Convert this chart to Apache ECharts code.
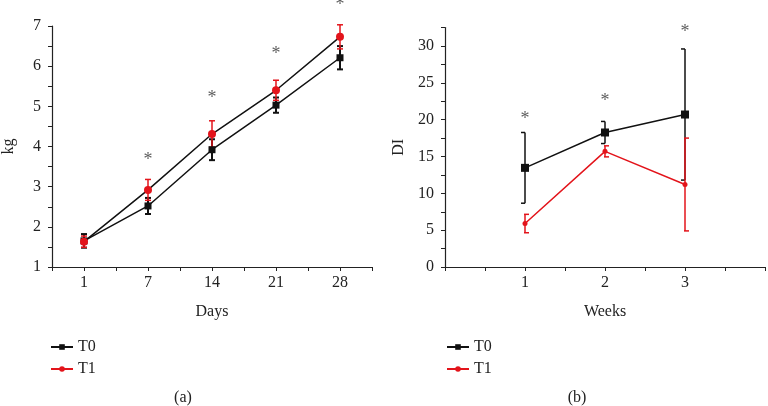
<!DOCTYPE html>
<html><head><meta charset="utf-8">
<script src="https://cdn.jsdelivr.net/npm/echarts@6/dist/echarts.min.js"></script>
<style>html,body{margin:0;padding:0;background:#fff}#c{width:768px;height:406px}</style>
</head><body><div id="c"></div>
<script>
// ---- Data (a): weight in kg by day ----
const days = ['1', '7', '14', '21', '28'];
const weightT0 = [1.65, 2.52, 3.92, 5.03, 6.21];
const weightT0Err = [0.17, 0.20, 0.26, 0.19, 0.29];
const weightT1 = [1.63, 2.92, 4.31, 5.40, 6.73];
const weightT1Err = [0.14, 0.26, 0.33, 0.25, 0.30];
const weightStars = [null, 3.66, 5.21, 6.29, 7.51];
const weightTicks = [1, 2, 3, 4, 5, 6, 7];
// ---- Data (b): DI by week ----
const weeks = ['1', '2', '3'];
const diT0 = [13.46, 18.26, 20.7];
const diT0Err = [4.8, 1.5, 8.9];
const diT1 = [5.9, 15.7, 11.2];
const diT1Err = [1.25, 0.75, 6.3];
const diStars = [20.1, 22.5, 31.8];
const diTicks = [0, 5, 10, 15, 20, 25, 30];

const RED = '#e3141b', BLACK = '#111';
const FONT = 'Liberation Serif';

function pts(vals, xs) { return vals.map((v, i) => [xs[i], v]); }
function errs(vals, e, xs) { return vals.map((v, i) => [xs[i], v - e[i], v + e[i]]); }
const dayX = days.map((d, i) => i);
const weekX = weeks.map(w => Number(w));

function errSeries(name, data, xi, color, lw, capL, capR) {
  return {
    type: 'custom', name: name, xAxisIndex: xi, yAxisIndex: xi, clip: false, z: 1,
    encode: { x: 0, y: [1, 2] }, data: data,
    renderItem: function (params, api) {
      const x = api.value(0), lo = api.value(1), hi = api.value(2);
      const a = api.coord([x, hi]), b = api.coord([x, lo]);
      const st = { stroke: color, lineWidth: lw };
      return { type: 'group', children: [
        { type: 'line', shape: { x1: a[0], y1: a[1], x2: b[0], y2: b[1] }, style: st },
        { type: 'line', shape: { x1: a[0] - capL, y1: a[1], x2: a[0] + capR, y2: a[1] }, style: st },
        { type: 'line', shape: { x1: b[0] - capL, y1: b[1], x2: b[0] + capR, y2: b[1] }, style: st }
      ] };
    }
  };
}
function starSeries(vals, xs, xi) {
  return {
    type: 'scatter', xAxisIndex: xi, yAxisIndex: xi, clip: false, symbolSize: 0, silent: true,
    data: vals.map((v, i) => v == null ? null : [xs[i], v]).filter(d => d),
    label: { show: true, position: 'inside', formatter: '*', color: '#333', fontFamily: FONT, fontSize: 18 }
  };
}
const axisLine = { show: true, onZero: false, lineStyle: { color: '#222', width: 1.2 } };
const axisTick = { show: true, length: 4, lineStyle: { color: '#222', width: 1 } };
const labelStyle = { color: '#222', fontFamily: FONT, fontSize: 16 };
const nameStyle = { color: '#222', fontFamily: FONT, fontSize: 16 };
const legendText = { color: '#222', fontFamily: FONT, fontSize: 16, lineHeight: 14 };

const option = {
  animation: false,
  grid: [
    { left: 50, top: 26, width: 322, height: 241 },
    { left: 445, top: 27.6, width: 321, height: 239.4 }
  ],
  xAxis: [
    { type: 'value', gridIndex: 0, min: -0.5, max: 4.5, interval: 0.5, splitLine: { show: false },
      axisLine: axisLine, axisTick: axisTick,
      axisLabel: Object.assign({ margin: 8, formatter: v => Number.isInteger(v) && v >= 0 && v < days.length ? days[v] : '' }, labelStyle),
      name: 'Days', nameLocation: 'middle', nameGap: 37, nameTextStyle: nameStyle },
    { type: 'value', gridIndex: 1, min: 0, max: 4, interval: 0.5, splitLine: { show: false },
      axisLine: axisLine, axisTick: axisTick,
      axisLabel: Object.assign({ margin: 8, formatter: v => weeks.includes(String(v)) ? String(v) : '' }, labelStyle),
      name: 'Weeks', nameLocation: 'middle', nameGap: 37, nameTextStyle: nameStyle }
  ],
  yAxis: [
    { type: 'value', gridIndex: 0, min: 1, max: 7, interval: 0.5, splitLine: { show: false },
      axisLine: axisLine, axisTick: axisTick,
      axisLabel: Object.assign({ margin: 11, formatter: v => weightTicks.includes(v) ? String(v) : '' }, labelStyle),
      name: 'kg', nameLocation: 'middle', nameGap: 35, nameTextStyle: nameStyle },
    { type: 'value', gridIndex: 1, min: 0, max: 32.5, interval: 2.5, splitLine: { show: false },
      axisLine: axisLine, axisTick: axisTick,
      axisLabel: Object.assign({ margin: 11, formatter: v => diTicks.includes(v) ? String(v) : '' }, labelStyle),
      name: 'DI', nameLocation: 'middle', nameGap: 38, nameTextStyle: nameStyle }
  ],
  legend: [
    { left: 45, top: 334, orient: 'vertical', itemWidth: 22, itemHeight: 7, itemGap: 6,
      textStyle: legendText,
      data: [{ name: 'T0' }, { name: 'T1', itemStyle: { color: RED }, lineStyle: { color: RED } }] },
    { left: 441, top: 334, orient: 'vertical', itemWidth: 22, itemHeight: 7, itemGap: 6,
      textStyle: legendText,
      data: [{ name: 'T0' }, { name: 'T1', itemStyle: { color: RED }, lineStyle: { color: RED } }] }
  ],
  graphic: [
    { type: 'text', x: 183, y: 398, style: { text: '(a)', textAlign: 'center', textVerticalAlign: 'middle', font: '16px "Liberation Serif"', fill: '#222' } },
    { type: 'text', x: 577, y: 398, style: { text: '(b)', textAlign: 'center', textVerticalAlign: 'middle', font: '16px "Liberation Serif"', fill: '#222' } }
  ],
  series: [
    errSeries('T0 err', errs(weightT0, weightT0Err, dayX), 0, BLACK, 2, 3, 3),
    { type: 'line', name: 'T0', xAxisIndex: 0, yAxisIndex: 0, data: pts(weightT0, dayX), symbol: 'rect', symbolSize: 7,
      lineStyle: { color: BLACK, width: 1.5 }, itemStyle: { color: BLACK }, z: 2 },
    errSeries('T1 err', errs(weightT1, weightT1Err, dayX), 0, RED, 1.5, 3, 3),
    { type: 'line', name: 'T1', xAxisIndex: 0, yAxisIndex: 0, data: pts(weightT1, dayX), symbol: 'circle', symbolSize: 8,
      lineStyle: { color: BLACK, width: 1.5 }, itemStyle: { color: RED }, z: 3 },
    starSeries(weightStars, dayX, 0),

    errSeries('T0 err', errs(diT0, diT0Err, weekX), 1, BLACK, 1.5, 4, 0),
    { type: 'line', name: 'T0', xAxisIndex: 1, yAxisIndex: 1, data: pts(diT0, weekX), symbol: 'rect', symbolSize: 8,
      lineStyle: { color: BLACK, width: 1.5 }, itemStyle: { color: BLACK }, z: 2 },
    errSeries('T1 err', errs(diT1, diT1Err, weekX), 1, RED, 1.5, 1, 4),
    { type: 'line', name: 'T1', xAxisIndex: 1, yAxisIndex: 1, data: pts(diT1, weekX), symbol: 'circle', symbolSize: 5,
      lineStyle: { color: RED, width: 1.5 }, itemStyle: { color: RED }, z: 3 },
    starSeries(diStars, weekX, 1)
  ]
};
const chart = echarts.init(document.getElementById('c'), null, { renderer: 'canvas' });
chart.setOption(option);
</script>
</body></html>
